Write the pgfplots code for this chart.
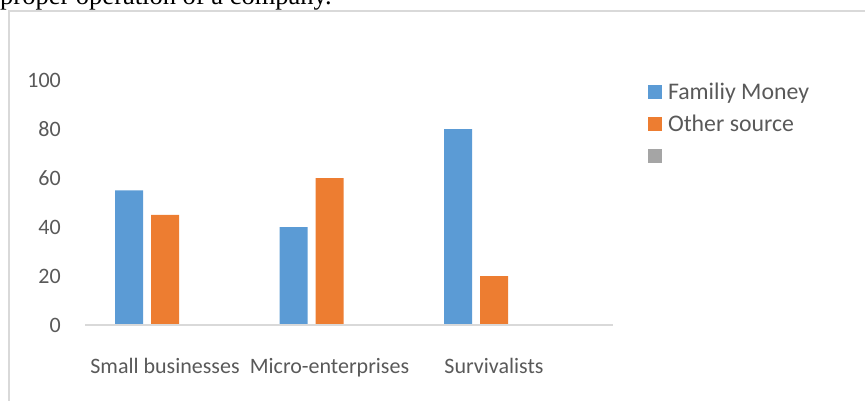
\documentclass[border=0pt]{standalone}
\usepackage{pgfplots}
\pgfplotsset{compat=1.18}
\usepackage{fontspec}
\setmainfont{Carlito}
\newfontfamily\timesfont{Liberation Serif}
\definecolor{fmblue}{HTML}{5B9BD5}
\definecolor{osorange}{HTML}{ED7D31}
\definecolor{emptygray}{HTML}{A5A5A5}
\definecolor{tickgray}{HTML}{595959}
\definecolor{linegray}{HTML}{D9D9D9}
\begin{document}
\begin{tikzpicture}[x=1pt,y=1pt]
\useasboundingbox (0,0) rectangle (865,-400);
\clip (0,0) rectangle (865,-400);
\node[anchor=base west, inner sep=0pt, font=\timesfont\fontsize{26.5}{30}\selectfont] at (0,-4.7) {proper operation of a company.};
\draw[linegray, line width=1.8pt] (9,-500) -- (9,-11) -- (1000,-11);
\begin{axis}[
  at={(85pt,-325pt)}, anchor=south west,
  scale only axis, width=528pt, height=245pt,
  xmin=-0.48632, xmax=2.72340, ymin=0, ymax=100,
  axis line style={draw=none},
  major tick length=0pt, tick style={draw=none},
  xtick={0,1,2},
  xticklabels={Small businesses,Micro-enterprises,Survivalists},
  ytick={0,20,40,60,80,100},
  /pgf/number format/assume math mode=true,
  ticklabel style={font=\fontsize{22}{26}\selectfont, text=tickgray},
  yticklabel style={anchor=east, inner sep=0pt, xshift=-24pt},
  xticklabel style={anchor=base, inner sep=0pt, yshift=-48pt},
  legend style={at={(1.06629,0.98224)}, anchor=north west, draw=none, fill=none,
    inner sep=0pt, outer sep=0pt, row sep=16.7pt, column sep=6pt,
    font=\fontsize{23.8}{28}\selectfont, text=tickgray,
    nodes={inner sep=0pt, text height=15.3pt, text depth=0pt},
    cells={anchor=west}},
  legend image code/.code={\fill[#1] (0pt,-7pt) rectangle (14pt,7pt);},
  clip=false,
]
\addplot[ybar, bar width=28pt, bar shift=-36pt, fill=fmblue, draw=none]
  coordinates {(0,55) (1,40) (2,80)};
\addlegendentry{Familiy Money}
\addplot[ybar, bar width=28pt, bar shift=0pt, fill=osorange, draw=none]
  coordinates {(0,45) (1,60) (2,20)};
\addlegendentry{Other source}
\addlegendimage{fill=emptygray, draw=none}
\addlegendentry{}
\draw[linegray, line width=1.6pt] (rel axis cs:0,0) -- (rel axis cs:1,0);
\end{axis}
\end{tikzpicture}
\end{document}
